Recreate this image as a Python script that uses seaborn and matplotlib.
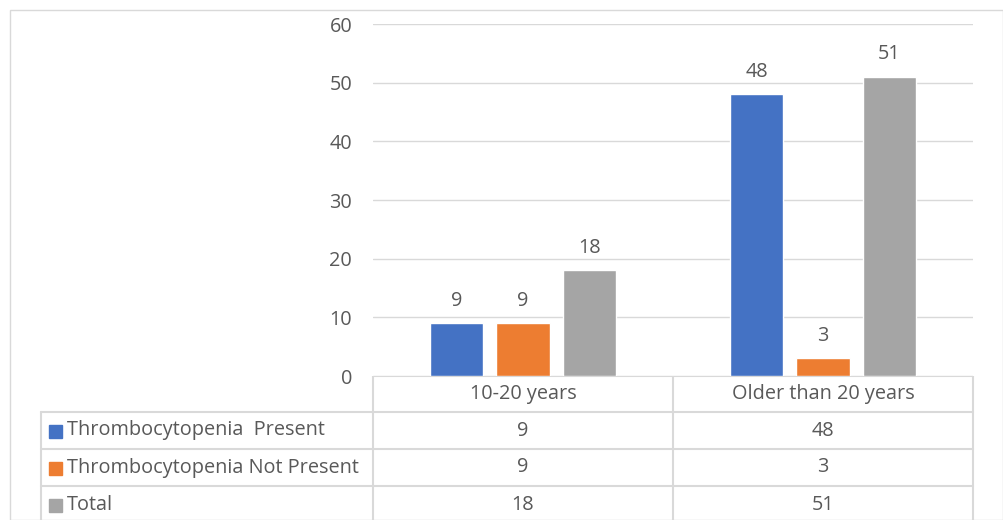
import pandas as pd
import matplotlib.pyplot as plt
import seaborn as sns
from matplotlib.patches import Rectangle

# datos
categories = ["10-20 years", "Older than 20 years"]
series_names = ["Thrombocytopenia  Present", "Thrombocytopenia Not Present", "Total"]
present = [9, 48]
not_present = [9, 3]
total = [18, 51]
colors = ["#4472C4", "#ED7D31", "#A5A5A5"]

rows = []
for name, vals in zip(series_names, [present, not_present, total]):
    for cat, v in zip(categories, vals):
        rows.append({"Age": cat, "Series": name, "Count": v})
df = pd.DataFrame(rows)

sns.set_theme(style="white")
plt.rcParams["font.family"] = ["Open Sans", "DejaVu Sans"]
text_color = "#595959"
grid_color = "#D9D9D9"
fs = 14.3

W, H = 1004, 520
fig = plt.figure(figsize=(W / 100, H / 100), dpi=100)

def px_axes(x0, y0, x1, y1):
    return fig.add_axes([x0 / W, 1 - y1 / H, (x1 - x0) / W, (y1 - y0) / H])

# marco exterior del grafico
fig.patches.append(Rectangle((10 / W, 0), (1003 - 10) / W, 1 - 10 / H,
                             transform=fig.transFigure, fill=False,
                             edgecolor=grid_color, linewidth=1))

ax = px_axes(373, 24, 973, 376)
sns.barplot(data=df, x="Age", y="Count", hue="Series", order=categories,
            hue_order=series_names, palette=colors, width=0.665, gap=0.2,
            saturation=1, legend=False, ax=ax)
for cont in ax.containers:
    ax.bar_label(cont, padding=9, fontsize=fs, color=text_color)

ax.set_xlim(-0.5, 1.5)
ax.set_ylim(0, 60)
ax.set_yticks(range(0, 61, 10))
ax.yaxis.grid(True, color=grid_color, linewidth=1)
ax.set_axisbelow(True)
ax.set_xticks([])
ax.set_xlabel("")
ax.set_ylabel("")
ax.tick_params(axis="y", length=0, pad=15, labelsize=fs, labelcolor=text_color)
for s in ax.spines.values():
    s.set_visible(False)

# tabla de datos debajo
tab = px_axes(0, 376, W, H)
tab.set_xlim(0, W)
tab.set_ylim(H, 376)
tab.axis("off")
lw = 1.5
row_y = [376, 412, 449, 486, 523]
col_x = [41, 373, 673, 973]
tab.plot([373, 973], [376, 376], color=grid_color, lw=lw)
for y in row_y[1:]:
    tab.plot([41, 973], [y, y], color=grid_color, lw=lw)
tab.plot([41, 41], [412, 523], color=grid_color, lw=lw)
for x in col_x[1:]:
    tab.plot([x, x], [376, 523], color=grid_color, lw=lw)

for j, cat in enumerate(categories):
    tab.text((col_x[j + 1] + col_x[j + 2]) / 2, (row_y[0] + row_y[1]) / 2, cat,
             ha="center", va="center", fontsize=fs, color=text_color)
for i, (name, vals) in enumerate(zip(series_names, [present, not_present, total])):
    yc = (row_y[i + 1] + row_y[i + 2]) / 2
    tab.add_patch(Rectangle((49, yc - 6), 13, 13, color=colors[i]))
    tab.text(67, yc, name, ha="left", va="center", fontsize=fs, color=text_color)
    for j, v in enumerate(vals):
        tab.text((col_x[j + 1] + col_x[j + 2]) / 2, yc, str(v),
                 ha="center", va="center", fontsize=fs, color=text_color)

fig.savefig("out.png", dpi=100)
